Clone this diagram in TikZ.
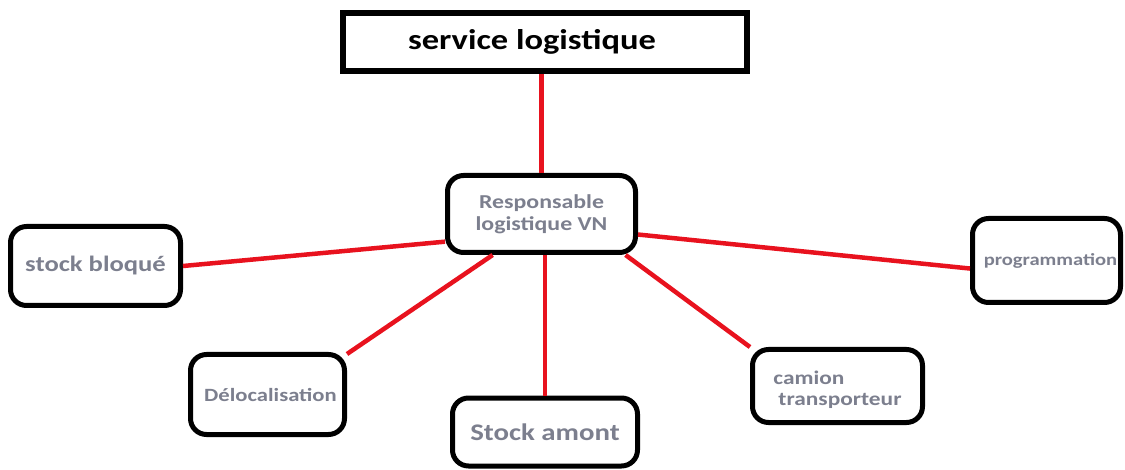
\documentclass[tikz,border=0pt]{standalone}
\usepackage{fontspec}
\setmainfont{Carlito}[FakeStretch=1.21]
\definecolor{txtgray}{RGB}{124,127,142}
\definecolor{linkred}{RGB}{232,18,30}
\begin{document}
\begin{tikzpicture}[x=1pt,y=-1pt,
  box/.style={draw=black,line width=5pt,rounded corners=16pt,fill=white,inner sep=0pt,
    font=\bfseries,text=txtgray,align=center},
  link/.style={draw=linkred,line width=4.5pt}]
\useasboundingbox (0,0) rectangle (1125,470);
\node[draw=black,line width=6pt,minimum width=404pt,minimum height=58pt,inner sep=0pt,
  font=\fontsize{28.5}{32}\bfseries] (top) at (545,42) {\hspace{-26pt}service logistique};
\node[box,minimum width=188pt,minimum height=77pt,font=\fontsize{19.7}{22}\bfseries] (resp) at (541.5,214) {Responsable\\logistique VN};
\node[box,minimum width=170pt,minimum height=79pt,font=\fontsize{22}{26}\bfseries] (stock) at (95.5,266) {stock bloqué};
\node[box,minimum width=148pt,minimum height=84pt,font=\fontsize{17}{20}\bfseries] (prog) at (1046.5,260.5) {\hspace{8pt}programmation};
\node[box,minimum width=154pt,minimum height=80pt,font=\fontsize{18.7}{22}\bfseries] (deloc) at (267.5,394.5) {\hspace{6pt}Délocalisation};
\node[box,minimum width=185pt,minimum height=68pt,font=\fontsize{23.8}{27}\bfseries] (amont) at (545,432) {Stock amont};
\node[box,minimum width=170pt,minimum height=73pt,font=\fontsize{19.3}{21}\bfseries] (camion) at (837.5,386)
  {\raisebox{-10pt}[0pt][0pt]{\begin{tabular}{@{}l@{}}camion\\\hspace{5pt}transporteur\end{tabular}}};
\draw[link] (top.south -| resp.north) -- (resp.north);
\draw[link] (resp.196) -- (stock.east);
\draw[link] (resp.220) -- (deloc.27);
\draw[link] (resp.south -| amont.north) -- (amont.north);
\draw[link] (resp.334) -- (camion.156);
\draw[link] (resp.348) -- (prog.186);
\end{tikzpicture}
\end{document}
